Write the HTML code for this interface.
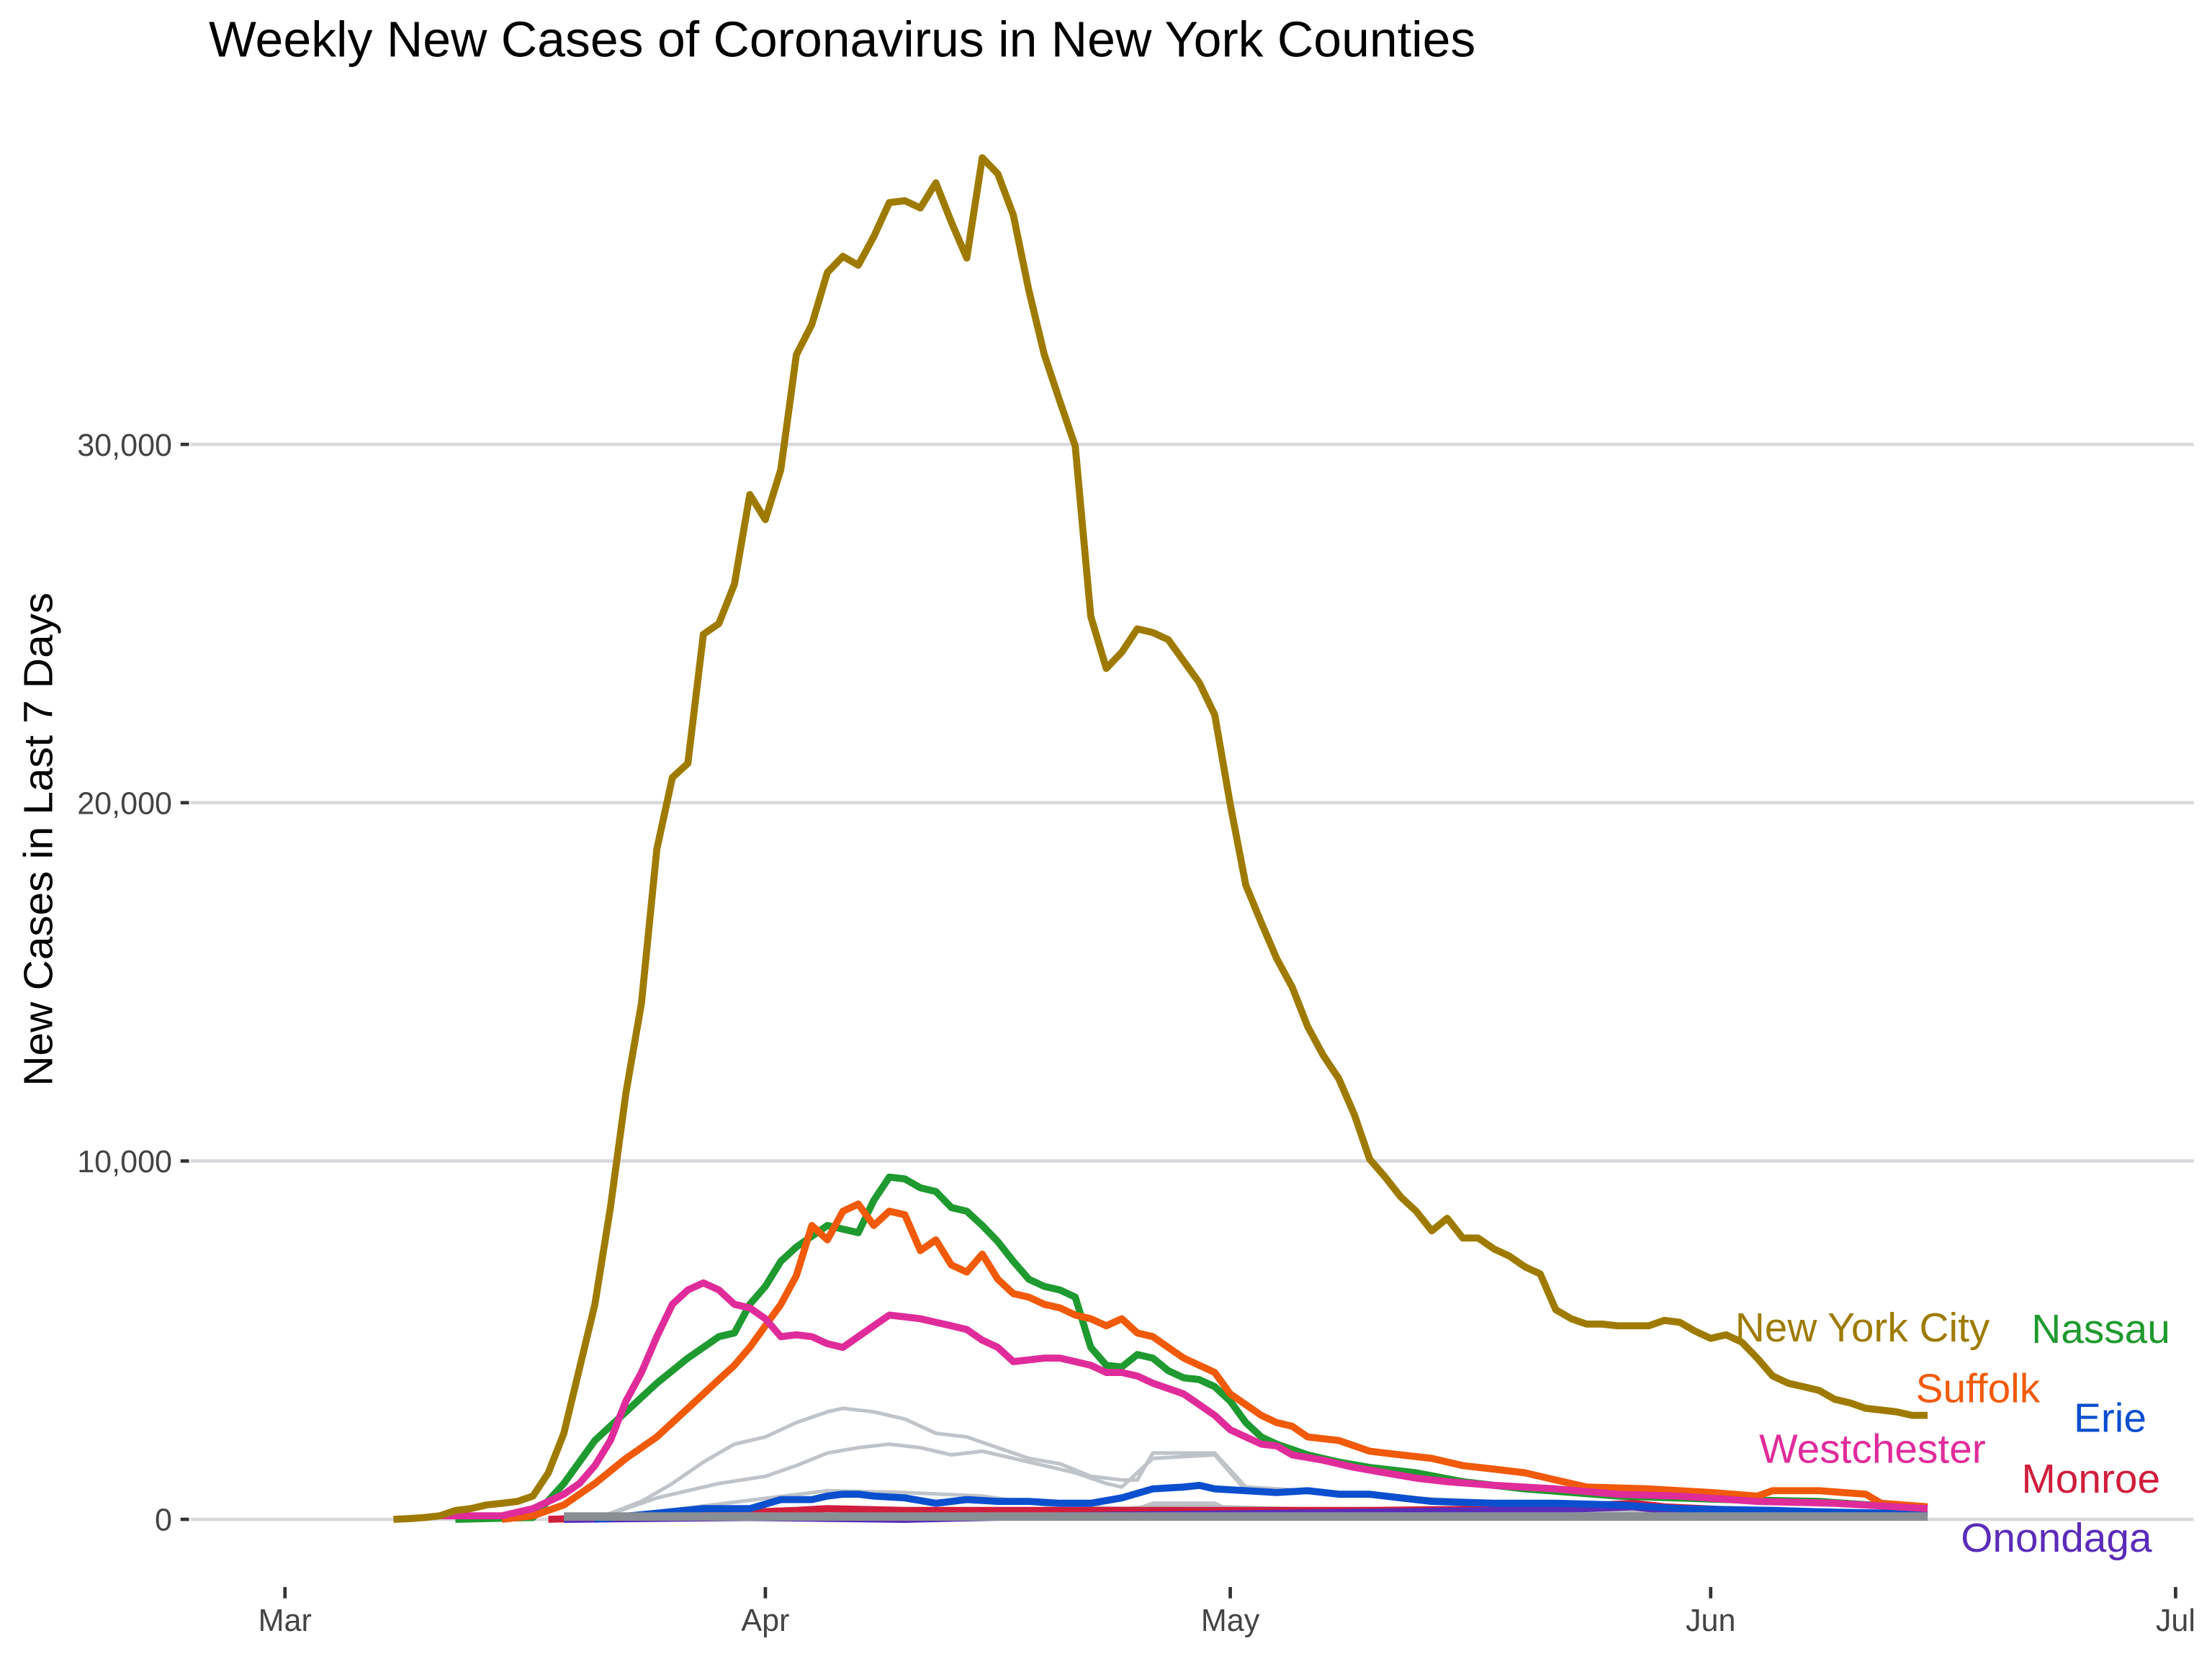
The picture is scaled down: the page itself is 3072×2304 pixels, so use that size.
<!DOCTYPE html>
<html><head><meta charset="utf-8"><style>
html,body{margin:0;padding:0;background:#fff}
svg{display:block}
text{font-family:"Liberation Sans",Arial,sans-serif}
</style></head><body>
<svg id="chart" width="3072" height="2304" viewBox="0 0 1568 1176" xmlns="http://www.w3.org/2000/svg">
<text x="148" y="40" font-size="35.5" fill="#000" textLength="898" lengthAdjust="spacingAndGlyphs">Weekly New Cases of Coronavirus in New York Counties</text>
<text transform="translate(37,595) rotate(-90)" text-anchor="middle" font-size="29" fill="#000" textLength="350" lengthAdjust="spacingAndGlyphs">New Cases in Last 7 Days</text>
<g id="grid"></g><g id="series"></g><g id="labels"></g>
</svg>
<script>
const yTicks=[0,10000,20000,30000];
const yTickLabels=["0","10,000","20,000","30,000"];
const xTickDays=[0,31,61,92,122];
const xTickLabels=["Mar","Apr","May","Jun","Jul"];
const nycStart=7;
const nycValues=[0,20,50,100,250,300,400,450,500,650,1300,2400,4200,6000,8700,11900,14400,18700,20700,21100,24700,25000,26100,28600,27900,29300,32500,33350,34800,35250,35000,35800,36750,36800,36600,37300,36200,35200,38000,37550,36400,34300,32500,31200,29950,25200,23750,24200,24850,24750,24550,23950,23350,22450,19950,17700,16650,15650,14850,13750,12950,12300,11300,10050,9550,9000,8600,8050,8400,7850,7850,7550,7350,7050,6850,5850,5600,5450,5450,5400,5400,5400,5550,5500,5250,5050,5150,4950,4500,4000,3800,3700,3600,3350,3250,3100,3050,3000,2900,2900];
const nassauDays=[11,16,18,20,22,24,26,28,29,30,31,32,33,34,35,36,37,38,39,40,41,42,43,44,45,46,47,48,49,50,51,52,53,54,55,56,57,58,59,60,61,62,63,64,66,68,70,73,76,80,86,93,99,104,106];
const nassauValues=[0,50,1000,2200,3000,3800,4500,5100,5200,6000,6500,7200,7600,7900,8200,8100,8000,8900,9550,9500,9250,9150,8700,8600,8200,7750,7200,6700,6500,6400,6200,4800,4300,4250,4600,4500,4150,3950,3900,3700,3300,2700,2300,2100,1800,1600,1450,1300,1050,850,650,550,500,350,300];
const suffolkDays=[14,16,18,20,22,24,26,28,29,30,31,32,33,34,35,36,37,38,39,40,41,42,43,44,45,46,47,48,49,50,51,52,53,54,55,56,57,58,59,60,61,62,63,64,65,66,68,70,72,74,76,78,80,82,84,88,92,95,96,99,102,103,106];
const suffolkValues=[0,100,400,1000,1700,2300,3100,3900,4300,4800,5400,6000,6800,8200,7800,8600,8800,8200,8600,8500,7500,7800,7100,6900,7400,6700,6300,6200,6000,5900,5700,5600,5400,5600,5200,5100,4800,4500,4300,4100,3500,3200,2900,2700,2600,2300,2200,1900,1800,1700,1500,1400,1300,1100,900,850,750,650,800,800,700,450,350];
const westDays=[10,12,14,16,18,19,20,21,22,23,24,25,26,27,28,29,30,31,32,33,34,35,36,37,38,39,40,41,42,43,44,45,46,47,48,49,50,51,52,53,54,55,56,57,58,59,60,61,62,63,64,65,67,69,71,73,75,78,82,86,90,95,100,106];
const westValues=[100,100,100,300,700,1000,1500,2200,3300,4100,5100,6000,6400,6600,6400,6000,5900,5600,5100,5150,5100,4900,4800,5100,5400,5700,5650,5600,5500,5400,5300,5000,4800,4400,4450,4500,4500,4400,4300,4100,4100,4000,3800,3650,3500,3200,2900,2500,2300,2100,2050,1800,1650,1450,1300,1150,1050,950,850,700,650,500,450,300];
const erieDays=[20,27,30,32,34,35,36,37,38,40,42,44,46,48,50,52,54,56,58,59,60,62,64,66,68,70,72,74,78,82,86,90,96,100,106];
const erieValues=[0,300,300,550,550,650,700,700,650,600,450,550,500,500,450,450,600,850,900,950,850,800,750,800,700,700,600,500,450,450,400,300,250,200,150];
const monroeDays=[17,25,30,33,35,40,50,60,70,80,85,87,89,94,100,106];
const monroeValues=[0,100,200,250,300,250,250,250,250,300,400,450,350,250,150,100];
const onoDays=[18,30,40,50,60,70,78,84,87,90,96,100,106];
const onoValues=[0,50,0,100,150,200,250,300,350,200,250,180,80];
const gray1Days=[20,23,25,27,29,31,33,35,36,38,40,42,44,46,48,50,52,54,55,56,60,62,66,70,80,90,106];
const gray1Values=[0,500,1000,1600,2100,2300,2700,3000,3100,3000,2800,2400,2300,2000,1700,1550,1200,1100,1100,1850,1850,900,800,650,400,250,100];
const gray2Days=[20,24,28,31,33,35,37,39,41,43,45,47,49,51,53,54,56,60,62,66,75,85,95,106];
const gray2Values=[0,600,1000,1200,1500,1850,2000,2100,2000,1800,1900,1700,1500,1300,1000,900,1700,1800,800,750,550,350,200,100];
const gray3Days=[20,35,40,45,50,55,56,60,61,70,85,106];
const gray3Values=[0,800,750,650,350,300,450,450,250,300,250,100];
const gray4Days=[20,35,50,56,60,70,85,95,106];
const gray4Values=[0,250,200,350,350,250,200,150,50];

const X=d=>202+d*10.985, Y=v=>1077-v*0.0254;
const NS="http://www.w3.org/2000/svg";
function mk(tag,attrs,parent){const e=document.createElementNS(NS,tag);for(const k in attrs)e.setAttribute(k,attrs[k]);parent.appendChild(e);return e;}
const grid=document.getElementById('grid'),ser=document.getElementById('series'),lab=document.getElementById('labels');
yTicks.forEach((v,i)=>{
  const l=mk('line',{x1:135,x2:1555,y1:Y(v),y2:Y(v),stroke:'#d9d9dd','stroke-width':2.4},grid);
  
  
  const tk=mk('line',{x1:128,x2:134,y1:Y(v),y2:Y(v),stroke:'#333','stroke-width':2.4},grid);
  
  
  const t=mk('text',{x:122,y:Y(v)+8,'text-anchor':'end','font-size':22,fill:'#444'},grid);
  t.textContent=yTickLabels[i];
  
  
});
xTickDays.forEach((d,i)=>{
  const tk=mk('line',{x1:X(d),x2:X(d),y1:1125,y2:1133,stroke:'#333','stroke-width':2.4},grid);
  
  
  const t=mk('text',{x:X(d),y:1156,'text-anchor':'middle','font-size':22,fill:'#444'},grid);
  t.textContent=xTickLabels[i];
  
  
});
function line(days,vals,color,w,name){
  const p=mk('path',{d:days.map((d,i)=>(i?'L':'M')+X(d).toFixed(1)+','+Y(vals[i]).toFixed(1)).join(''),fill:'none',stroke:color,'stroke-width':w,'stroke-linejoin':'round'},ser);
  
  
}
const nycDays=nycValues.map((v,i)=>nycStart+i);
line(gray1Days,gray1Values,'#c0c4c8',2.6,'line-other-county-1');
line(gray2Days,gray2Values,'#c0c4c8',2.6,'line-other-county-2');
line(gray3Days,gray3Values,'#c0c4c8',2.6,'line-other-county-3');
line(gray4Days,gray4Values,'#b8bcc0',2.6,'line-other-county-4');
line(monroeDays,monroeValues,'#d01e3c',5,'line-monroe');
line(onoDays,onoValues,'#5a2cb8',5,'line-onondaga');
line(erieDays,erieValues,'#0b4fcf',5,'line-erie');
line(nassauDays,nassauValues,'#1f9a30',5,'line-nassau');
line(suffolkDays,suffolkValues,'#f05a0a',5,'line-suffolk');
line(westDays,westValues,'#e02c9a',5,'line-westchester');
line(nycDays,nycValues,'#9e7b00',5,'line-new-york-city');
const b=mk('path',{d:'M'+X(18)+','+(Y(0)-2)+'L'+X(106)+','+(Y(0)-2),stroke:'#888e94','stroke-width':6,fill:'none'},ser);


const labels=[["New York City",1230,951,'#9e7b00'],["Nassau",1440,952,'#1f9a30'],["Suffolk",1358,994,'#f05a0a'],["Erie",1470,1015,'#0b4fcf'],["Westchester",1247,1037,'#e02c9a'],["Monroe",1433,1058,'#d01e3c'],["Onondaga",1390,1100,'#5a2cb8']];
labels.forEach(l=>{
  const t=mk('text',{x:l[1],y:l[2],'font-size':29,fill:l[3]},lab);
  t.textContent=l[0];
  
  
});
</script>
</body></html>
